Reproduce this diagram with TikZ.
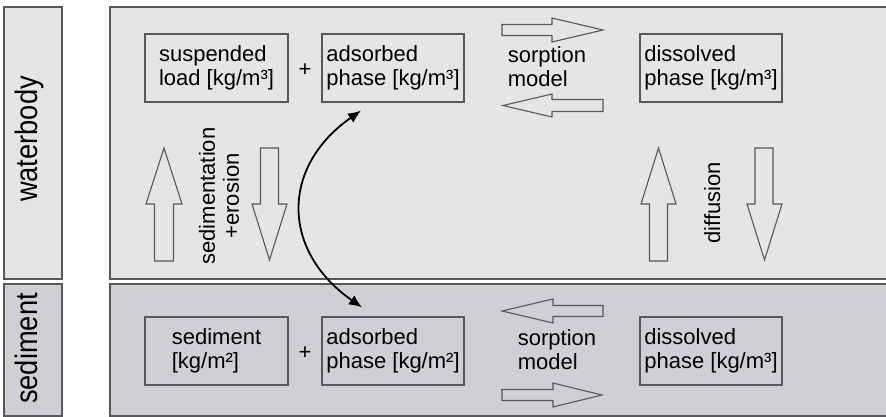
\documentclass[tikz,border=0pt]{standalone}
\usepackage{fontspec}
\setmainfont{Liberation Sans}
\usetikzlibrary{arrows.meta}
\definecolor{waterfill}{HTML}{E5E5E5}
\definecolor{sedfill}{HTML}{CED0D3}
\definecolor{edgegray}{HTML}{585858}
\tikzset{
  panelline/.style={draw=edgegray, line width=1.6pt},
  compbox/.style={draw=edgegray, line width=1.2pt, minimum width=142pt, minimum height=68pt,
    inner sep=0pt, align=left, font=\fontsize{22}{24}\selectfont},
  plain/.style={inner sep=0pt, align=left, font=\fontsize{22}{24}\selectfont},
  blockarrow/.style={draw=edgegray, line width=1.1pt, line join=miter},
  sidelabel/.style={rotate=90, anchor=base, inner sep=0pt, font=\fontsize{31}{31}\selectfont},
  curvearrow/.style={line width=1.8pt, {Latex[length=13pt,width=11pt]}-{Latex[length=13pt,width=11pt]}}
}
\begin{document}
\begin{tikzpicture}[x=1pt,y=-1pt]
\useasboundingbox (0,0) rectangle (886,417);
% panels
\fill[waterfill] (110,7) rectangle (886,279);
\fill[sedfill] (110,284) rectangle (886,417);
\draw[panelline] (886,7) -- (110,7) -- (110,279) -- (886,279);
\draw[panelline] (886,284) -- (110,284) -- (110,416) -- (886,416);
% side labels
\draw[panelline, fill=waterfill] (4,7) rectangle (62,279);
\draw[panelline, fill=sedfill] (4,284) rectangle (62,416);
\node[sidelabel] (lw) at (37,139) {\scalebox{0.88}[1]{waterbody}};
\node[sidelabel] (ls) at (37,348.5) {\scalebox{0.88}[1]{sediment}};
% waterbody boxes
\node[compbox, minimum width=143pt] (susp) at (216.5,68) {suspended\\load [kg/m³]};
\node[compbox] (adsT) at (393,68) {adsorbed\\phase [kg/m³]};
\node[compbox] (dissT) at (711,68) {dissolved\\phase [kg/m³]};
\node[plain] (plusT) at (305,70) {+};
\node[plain] (sorpT) at (547,67) {sorption\\model};
% sediment boxes
\node[compbox, minimum width=143pt] (sed) at (216.5,351) {sediment\\{}[kg/m²]};
\node[compbox] (adsB) at (393,351) {adsorbed\\phase [kg/m²]};
\node[compbox] (dissB) at (711,351) {dissolved\\phase [kg/m³]};
\node[plain] (plusB) at (305,353) {+};
\node[plain] (sorpB) at (557,350) {sorption\\model};
% horizontal block arrows
\draw[blockarrow] (502,24.5) -- (552,24.5) -- (552,18) -- (603,30) -- (552,42) -- (552,35.5) -- (502,35.5) -- cycle;
\draw[blockarrow] (603,99.5) -- (552,99.5) -- (552,94) -- (503,105.5) -- (552,117) -- (552,111.5) -- (603,111.5) -- cycle;
\draw[blockarrow] (603,305.5) -- (553,305.5) -- (553,299) -- (502,311) -- (553,323) -- (553,316.5) -- (603,316.5) -- cycle;
\draw[blockarrow] (502,389.5) -- (553,389.5) -- (553,383) -- (602,395) -- (553,407) -- (553,400.5) -- (502,400.5) -- cycle;
% vertical block arrows
\draw[blockarrow] (164,148) -- (182,204) -- (173.5,204) -- (173.5,261) -- (154.5,261) -- (154.5,204) -- (146,204) -- cycle;
\draw[blockarrow] (260.5,148) -- (278.5,148) -- (278.5,204) -- (287,204) -- (269.5,260) -- (252,204) -- (260.5,204) -- cycle;
\draw[blockarrow] (658.5,148) -- (676,204) -- (667.5,204) -- (667.5,261) -- (649.5,261) -- (649.5,204) -- (641,204) -- cycle;
\draw[blockarrow] (755,148) -- (773,148) -- (773,204) -- (782,204) -- (764.5,260) -- (747,204) -- (755,204) -- cycle;
% rotated labels
\node[plain, align=center, rotate=90] (sedero) at (219,196) {sedimentation\\+erosion};
\node[plain, rotate=90, anchor=base] (diff) at (720,203) {diffusion};
% curved exchange arrow
\draw[curvearrow] ([xshift=-32pt,yshift=-8pt]adsT.south) .. controls +(-80.7,56.5) and +(-80.7,-56.5) .. ([xshift=-31pt,yshift=9pt]adsB.north);
\end{tikzpicture}
\end{document}
